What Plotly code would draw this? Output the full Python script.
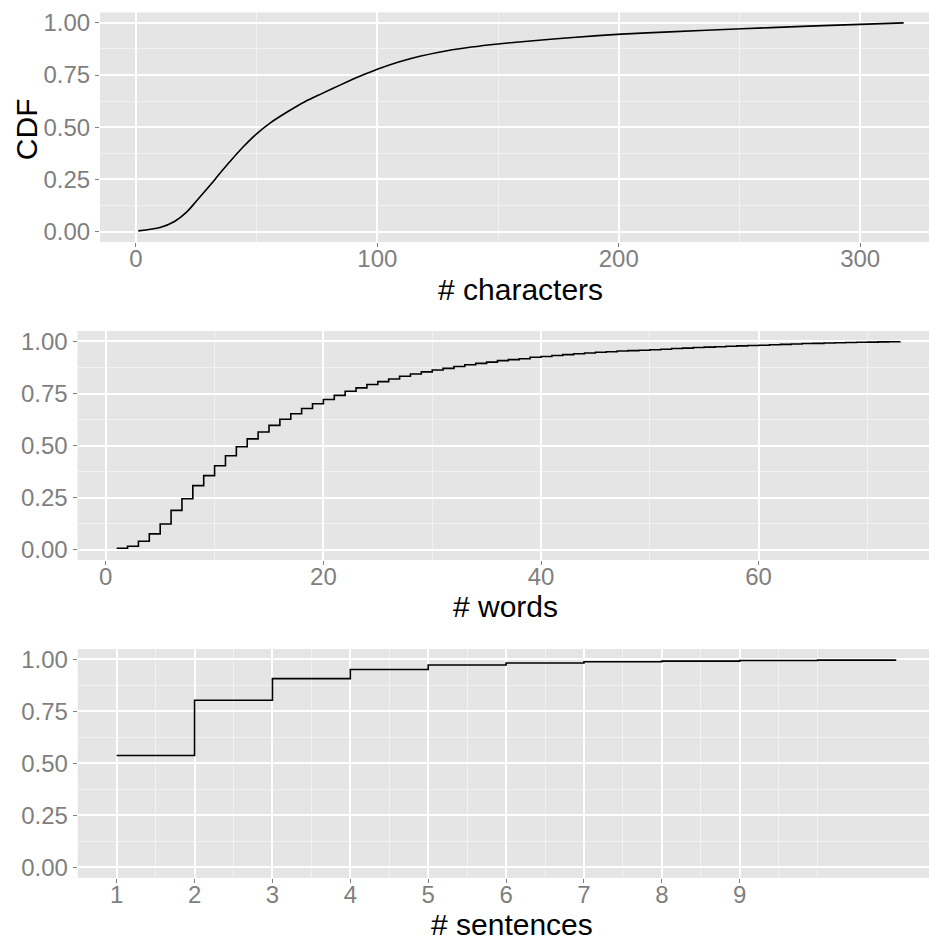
import plotly.graph_objects as go

# ---- data ----
char_x = [1, 10, 16, 21, 25, 31, 35, 41, 45, 50, 56, 63, 70, 77, 85, 93, 100, 111,
          125, 139, 150, 167, 181, 201, 221, 251, 276, 300, 318]
char_cdf = [0.003, 0.019, 0.048, 0.093, 0.145, 0.225, 0.282, 0.362, 0.412, 0.468, 0.523,
            0.575, 0.622, 0.661, 0.704, 0.745, 0.778, 0.820, 0.858, 0.884, 0.899, 0.917,
            0.930, 0.946, 0.957, 0.972, 0.983, 0.993, 1.000]

word_x = list(range(1, 74))
word_cdf = [0.006, 0.016, 0.040, 0.075, 0.123, 0.188, 0.244, 0.307, 0.355, 0.403,
            0.451, 0.494, 0.532, 0.565, 0.597, 0.626, 0.653, 0.678, 0.701, 0.721,
            0.741, 0.761, 0.777, 0.793, 0.807, 0.820, 0.833, 0.844, 0.854, 0.863,
            0.871, 0.880, 0.888, 0.895, 0.901, 0.908, 0.913, 0.917, 0.924, 0.928,
            0.933, 0.937, 0.941, 0.945, 0.948, 0.951, 0.954, 0.956, 0.958, 0.960,
            0.963, 0.966, 0.968, 0.971, 0.973, 0.975, 0.977, 0.979, 0.981, 0.982,
            0.984, 0.986, 0.988, 0.990, 0.991, 0.993, 0.994, 0.995, 0.996, 0.997,
            0.998, 0.999, 1.000]

sent_x = [1, 2, 3, 4, 5, 6, 7, 8, 9, 10, 11]
sent_cdf = [0.538, 0.804, 0.908, 0.952, 0.973, 0.983, 0.989, 0.992, 0.995, 0.997, 1.000]

y_ticks = [0, 0.25, 0.5, 0.75, 1.0]
y_tick_labels = ["0.00", "0.25", "0.50", "0.75", "1.00"]
y_minor = [0.125, 0.375, 0.625, 0.875]

char_ticks = [0, 100, 200, 300]
char_minor = [50, 150, 250]
word_ticks = [0, 20, 40, 60]
word_minor = [10, 30, 50, 70]
sent_ticks = [1, 2, 3, 4, 5, 6, 7, 8, 9]
sent_minor = [0.5, 1.5, 2.5, 3.5, 4.5, 5.5, 6.5, 7.5, 8.5, 9.5, 10]

W, H = 929, 940
FONT = "Liberation Sans, Arial, sans-serif"
GREY = "#7F7F7F"
TICK_SIZE = 24
TITLE_SIZE = 30


def xd(a, b):
    return [a / W, min(b / W, 1.0)]


def yd(top, bottom):
    return [1 - bottom / H, 1 - top / H]


fig = go.Figure()
fig.add_trace(go.Scatter(x=char_x, y=char_cdf, mode="lines",
                         line=dict(color="black", width=1.6, shape="spline", smoothing=0.8),
                         xaxis="x", yaxis="y", showlegend=False))
fig.add_trace(go.Scatter(x=word_x, y=word_cdf, mode="lines", line=dict(color="black", width=1.6, shape="hv"),
                         xaxis="x2", yaxis="y2", showlegend=False))
fig.add_trace(go.Scatter(x=sent_x, y=sent_cdf, mode="lines", line=dict(color="black", width=1.6, shape="hv"),
                         xaxis="x3", yaxis="y3", showlegend=False))


def xaxis(domain, rng, ticks, minor, anchor):
    return dict(domain=domain, range=rng, anchor=anchor, tickvals=ticks,
                ticks="outside", ticklen=4, tickcolor=GREY, tickwidth=1,
                ticklabelstandoff=-9,
                tickfont=dict(family=FONT, size=TICK_SIZE, color=GREY),
                showgrid=True, gridcolor="white", gridwidth=1.6, zeroline=False, showline=False,
                minor=dict(tickvals=minor, showgrid=True, gridcolor="#F2F2F2", gridwidth=0.8, ticks=""),
                fixedrange=True)


def yaxis(domain, anchor):
    return dict(domain=domain, range=[-0.05, 1.05], anchor=anchor, tickvals=y_ticks, ticktext=y_tick_labels,
                ticks="outside", ticklen=4, tickcolor=GREY, tickwidth=1,
                tickfont=dict(family=FONT, size=TICK_SIZE, color=GREY),
                showgrid=True, gridcolor="white", gridwidth=1.6, zeroline=False, showline=False,
                minor=dict(tickvals=y_minor, showgrid=True, gridcolor="#F2F2F2", gridwidth=0.8, ticks=""),
                fixedrange=True)


titles = [("# characters", 520, 288), ("# words", 505, 607), ("# sentences", 512, 927)]
annotations = []
for text, cx, cy in titles:
    annotations.append(dict(text=text, xref="paper", yref="paper", x=cx / W, y=1 - cy / H,
                            xanchor="center", yanchor="middle", showarrow=False,
                            font=dict(family=FONT, size=TITLE_SIZE, color="black")))
annotations.append(dict(text="CDF", xref="paper", yref="paper", x=26 / W, y=1 - 127 / H,
                        xanchor="center", yanchor="middle", showarrow=False, textangle=-90,
                        font=dict(family=FONT, size=TITLE_SIZE, color="black")))

fig.update_layout(
    width=W, height=H,
    margin=dict(l=0, r=0, t=0, b=0),
    paper_bgcolor="white", plot_bgcolor="#E5E5E5",
    xaxis=xaxis(xd(100, W), [-14.85, 328.5], char_ticks, char_minor, "y"),
    yaxis=yaxis(yd(9.5, 240.5), "x"),
    xaxis2=xaxis(xd(77.5, W), [-2.6, 75.66], word_ticks, word_minor, "y2"),
    yaxis2=yaxis(yd(330.2, 560.5), "x2"),
    xaxis3=xaxis(xd(77.75, W), [0.5, 11.43], sent_ticks, sent_minor, "y3"),
    yaxis3=yaxis(yd(650.2, 880.5), "x3"),
    annotations=annotations,
)

fig.write_html("out.html")
